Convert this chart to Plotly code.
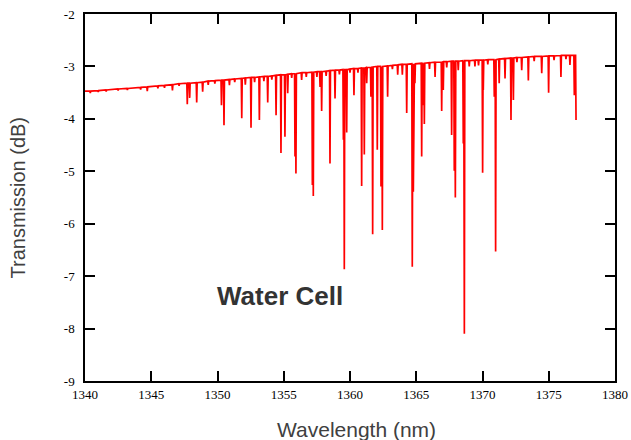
import plotly.graph_objects as go

# ---- data ----
start_nm = 1340.0
start_db = -3.47

dip_nm = [1340.4, 1341.0, 1341.6, 1342.5, 1343.2, 1344.2, 1344.7, 1345.5, 1346.0, 1346.6,
          1347.1, 1347.72, 1347.9, 1348.43, 1348.88, 1349.3, 1349.8, 1350.3, 1350.49, 1350.9,
          1351.3, 1351.83, 1352.1, 1352.53, 1352.8, 1353.16, 1353.5, 1353.79, 1354.1, 1354.42,
          1354.79, 1355.09, 1355.3, 1355.6, 1355.85, 1355.92, 1356.35, 1356.7, 1357.16, 1357.23,
          1357.5, 1357.74, 1357.86, 1358.2, 1358.49, 1358.87, 1359.2, 1359.5, 1359.57, 1359.75,
          1360.0, 1360.3, 1360.6, 1360.88, 1361.08, 1361.26, 1361.58, 1361.71, 1362.06, 1362.34,
          1362.44, 1362.84, 1363.2, 1363.6, 1363.95, 1364.28, 1364.7, 1364.78, 1364.9, 1365.41,
          1365.53, 1365.61, 1366.0, 1366.42, 1366.92, 1367.04, 1367.3, 1367.67, 1367.87, 1367.95,
          1368.17, 1368.55, 1368.63, 1369.0, 1369.43, 1369.7, 1370.01, 1370.06, 1370.4, 1370.89,
          1370.99, 1371.26, 1371.7, 1372.15, 1372.33, 1372.6, 1372.96, 1373.46, 1373.9, 1374.47,
          1374.99, 1375.4, 1375.92, 1376.3, 1376.6, 1376.93]

dip_top_db = [-3.47, -3.46, -3.45, -3.43, -3.42, -3.40, -3.39, -3.37, -3.36, -3.35,
              -3.33, -3.32, -3.32, -3.31, -3.30, -3.28, -3.27, -3.26, -3.26, -3.25,
              -3.24, -3.23, -3.22, -3.21, -3.21, -3.20, -3.19, -3.19, -3.18, -3.17,
              -3.16, -3.16, -3.15, -3.14, -3.14, -3.14, -3.12, -3.12, -3.11, -3.11,
              -3.10, -3.10, -3.10, -3.09, -3.08, -3.07, -3.07, -3.06, -3.06, -3.06,
              -3.05, -3.04, -3.04, -3.03, -3.03, -3.02, -3.02, -3.01, -3.00, -3.00,
              -3.00, -2.99, -2.98, -2.97, -2.96, -2.96, -2.95, -2.95, -2.95, -2.94,
              -2.94, -2.94, -2.93, -2.92, -2.92, -2.91, -2.91, -2.90, -2.90, -2.90,
              -2.90, -2.89, -2.89, -2.89, -2.88, -2.88, -2.88, -2.88, -2.87, -2.87,
              -2.87, -2.86, -2.85, -2.84, -2.84, -2.83, -2.83, -2.82, -2.81, -2.81,
              -2.80, -2.80, -2.79, -2.79, -2.79, -2.79]

dip_bottom_db = [-3.51, -3.49, -3.48, -3.46, -3.45, -3.44, -3.47, -3.42, -3.41, -3.46,
                 -3.37, -3.72, -3.60, -3.69, -3.48, -3.35, -3.33, -3.74, -4.12, -3.36,
                 -3.30, -3.99, -3.35, -4.17, -3.30, -4.02, -3.28, -3.69, -3.25, -3.93,
                 -4.65, -4.34, -3.51, -3.22, -4.72, -5.04, -3.26, -3.20, -5.26, -5.47,
                 -3.20, -3.39, -3.85, -3.18, -4.85, -3.61, -3.15, -4.40, -6.87, -4.26,
                 -3.12, -3.55, -3.12, -5.28, -4.68, -3.32, -3.58, -6.20, -4.59, -5.29,
                 -6.12, -3.58, -3.05, -3.16, -3.16, -3.89, -6.82, -5.39, -3.32, -4.72,
                 -3.74, -4.10, -3.05, -3.20, -3.85, -3.45, -3.02, -4.31, -4.99, -5.50,
                 -3.07, -4.47, -8.10, -3.00, -3.00, -2.98, -5.03, -3.45, -2.96, -3.58,
                 -6.53, -3.32, -3.23, -4.02, -3.64, -2.92, -3.07, -3.27, -2.90, -3.13,
                 -3.50, -2.88, -3.20, -2.86, -2.97, -3.55]

end_nm = 1377.06
end_db = -4.02

x_ticks = [1340, 1345, 1350, 1355, 1360, 1365, 1370, 1375, 1380]
y_ticks = [-9, -8, -7, -6, -5, -4, -3, -2]
y_tick_text = ["-9", "-8", "-7", "-6", "-5", "-4", "-3", "-2"]

# ---- build the spectrum polyline ----
HALF = 0.035
xs = [start_nm]
ys = [start_db]
for c, t, b in zip(dip_nm, dip_top_db, dip_bottom_db):
    xs += [c - HALF, c, c + HALF]
    ys += [t, b, t]
xs += [end_nm - HALF, end_nm]
ys += [dip_top_db[-1], end_db]

fig = go.Figure()
fig.add_trace(go.Scatter(x=xs, y=ys, mode="lines",
                         line=dict(color="#FF0000", width=1.7),
                         hoverinfo="skip", showlegend=False))

axis_common = dict(showgrid=False, zeroline=False, showline=True, linecolor="black",
                   linewidth=1.5, ticks="inside", ticklen=10, tickwidth=1.5,
                   tickcolor="black", mirror="ticks", automargin=False,
                   ticklabeloverflow="allow",
                   tickfont=dict(family="Liberation Serif", size=13, color="black"))

fig.update_xaxes(range=[1340, 1380], tickvals=x_ticks,
                 ticktext=[str(v) for v in x_ticks], ticklabelstandoff=1, **axis_common)
fig.update_yaxes(range=[-9, -2], tickvals=y_ticks, ticktext=y_tick_text,
                 ticklabelstandoff=6, **axis_common)

fig.add_annotation(text="Wavelength (nm)", xref="paper", yref="paper", x=0.5, y=0,
                   xanchor="center", yanchor="top", yshift=-35, xshift=6, showarrow=False,
                   font=dict(family="Liberation Sans", size=21, color="#404040"))
fig.add_annotation(text="Transmission (dB)", xref="paper", yref="paper", x=0, y=0.5,
                   textangle=-90, xanchor="center", yanchor="middle", xshift=-68,
                   showarrow=False,
                   font=dict(family="Liberation Sans", size=20, color="#404040"))
fig.add_annotation(text="<b>Water Cell</b>", x=1354.72, y=-7.37, xref="x", yref="y",
                   showarrow=False, xanchor="center", yanchor="middle",
                   font=dict(family="Liberation Sans", size=26, color="#333333"))

fig.update_layout(width=631, height=440, margin=dict(l=85, r=16, t=14, b=59),
                  paper_bgcolor="white", plot_bgcolor="white")

# remove the default page margin so the figure fills the window exactly
fig.write_html("out.html",
               config={"displayModeBar": False},
               post_script="document.body.style.margin='0';"
                           "document.body.style.overflow='hidden';")
